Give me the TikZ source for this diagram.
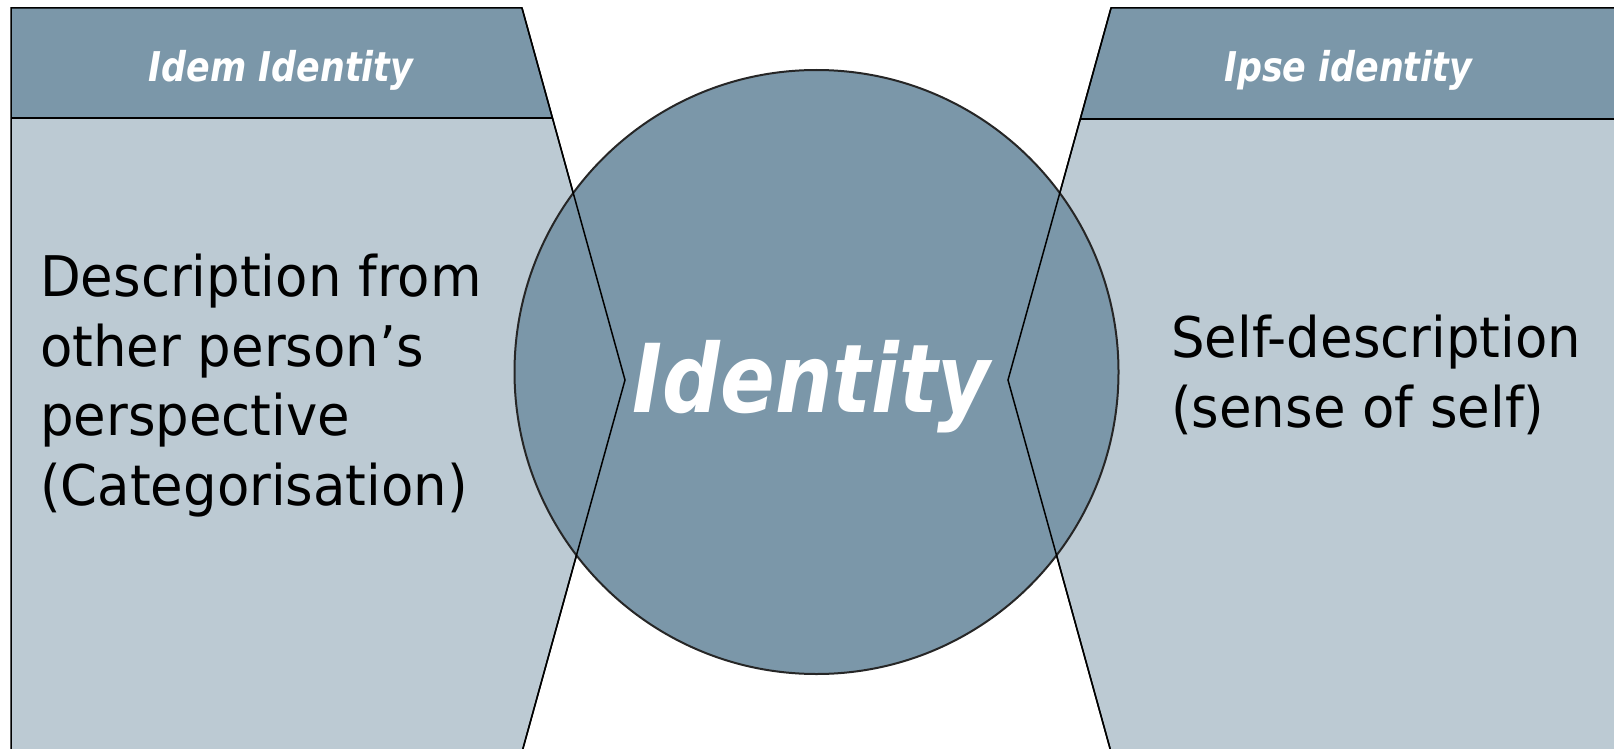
\documentclass[tikz,border=0pt]{standalone}
\usepackage{fontspec}
\setmainfont{DejaVu Sans}[FakeStretch=0.945]
\newfontfamily\titlefont{DejaVu Sans}[FakeStretch=0.85]
\usetikzlibrary{positioning}

\definecolor{headblue}{RGB}{123,151,169}
\definecolor{bodyblue}{RGB}{188,202,211}

\tikzset{
  outline/.style={draw=black, line width=1.5pt, line join=miter},
  headtext/.style={text=white, font=\titlefont\bfseries\itshape\fontsize{41}{48}\selectfont, inner sep=0pt, anchor=base},
  bodytext/.style={text=black, font=\fontsize{56}{69.5}\selectfont, align=left, inner sep=0pt, anchor=north west}
}

\begin{document}
\begin{tikzpicture}[x=1pt,y=-1pt]
  \useasboundingbox (0,0) rectangle (1614,749);
  \clip (0,0) rectangle (1614,749);

  % linke Tafel
  \fill[bodyblue] (11,8) -- (522,8) -- (625,380) -- (522,752) -- (11,752) -- cycle;
  \fill[headblue] (11,8) -- (522,8) -- (552.5,118) -- (11,118) -- cycle;
  \draw[outline] (11,760) -- (11,8) -- (522,8) -- (625,380) -- (522,752);
  \draw[outline] (11,118) -- (552.5,118);

  % rechte Tafel
  \fill[bodyblue] (1111,8) -- (1620,8) -- (1620,752) -- (1111,752) -- (1008,380) -- cycle;
  \fill[headblue] (1111,8) -- (1620,8) -- (1620,119) -- (1080.5,119) -- cycle;
  \draw[outline] (1620,8) -- (1111,8) -- (1008,380) -- (1111,752);
  \draw[outline] (1080.5,119) -- (1620,119);

  % Kreis
  \fill[headblue] (816.5,372) circle (302);
  \draw[black!85, line width=2pt] (816.5,372) circle (302);

  % Kanten ueber dem Kreis
  \draw[outline] (522,8) -- (625,380) -- (522,752);
  \draw[outline] (1111,8) -- (1008,380) -- (1111,752);

  % Texte
  \node[headtext] (idem) at (281,82) {Idem Identity};
  \node[headtext] (ipse) at (1348,82) {Ipse identity};
  \node[headtext, font=\titlefont\bfseries\itshape\fontsize{95}{110}\selectfont] (ident) at (811.5,412) {Identity};

  \node[bodytext] (other) at (40,254) {Description from\\other person’s\\perspective\\(Categorisation)};
  \node[bodytext] (self) at (1171,315) {Self-description\\(sense of self)};
\end{tikzpicture}
\end{document}
